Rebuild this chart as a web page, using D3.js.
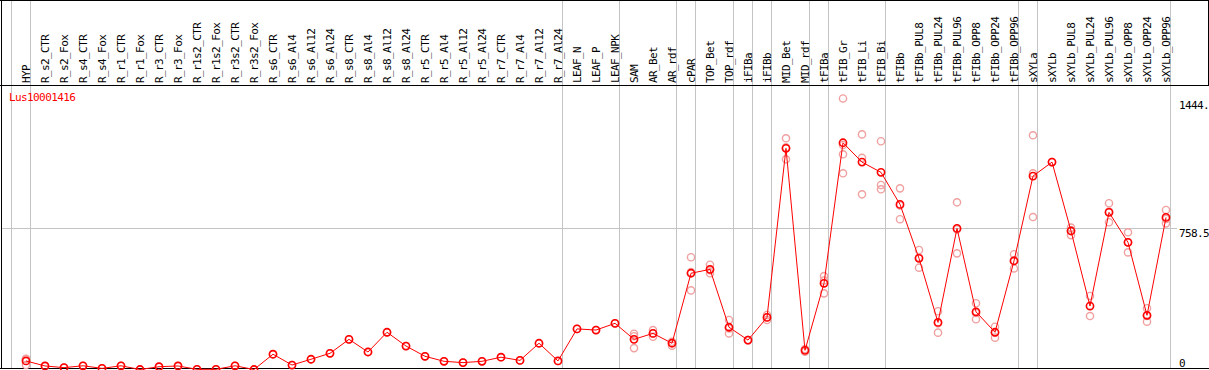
<!DOCTYPE html>
<html>
<head>
<meta charset="utf-8">
<script src="https://cdn.jsdelivr.net/npm/d3@7"></script>
<style>
  body { margin: 0; background: #fff; }
  text { font-family: "DejaVu Sans Mono", monospace; font-size: 11px; letter-spacing: -0.6px; }
</style>
</head>
<body>
<svg width="1209" height="370"></svg>
<script>
const title = "Lus10001416"

const categories = ["HYP","R_s2_CTR","R_s2_Fox","R_s4_CTR","R_s4_Fox","R_r1_CTR","R_r1_Fox","R_r3_CTR","R_r3_Fox",
  "R_r1s2_CTR","R_r1s2_Fox","R_r3s2_CTR","R_r3s2_Fox","R_s6_CTR","R_s6_Al4","R_s6_Al12","R_s6_Al24",
  "R_s8_CTR","R_s8_Al4","R_s8_Al12","R_s8_Al24","R_r5_CTR","R_r5_Al4","R_r5_Al12","R_r5_Al24",
  "R_r7_CTR","R_r7_Al4","R_r7_Al12","R_r7_Al24","LEAF_N","LEAF_P","LEAF_NPK","SAM","AR_Bet","AR_rdf",
  "cPAR","TOP_Bet","TOP_rdf","iFIBa","iFIBb","MID_Bet","MID_rdf","tFIBa","tFIB_Gr","tFIB_Li","tFIB_Bi",
  "tFIBb","tFIBb_PUL8","tFIBb_PUL24","tFIBb_PUL96","tFIBb_OPP8","tFIBb_OPP24","tFIBb_OPP96",
  "sXYLa","sXYLb","sXYLb_PUL8","sXYLb_PUL24","sXYLb_PUL96","sXYLb_OPP8","sXYLb_OPP24","sXYLb_OPP96"]

// how many categories sit in each group (grey separators between groups)
const groupSizes = [1, 28, 3, 3, 1, 2, 1, 1, 2, 1, 3, 7, 1, 7]

const means = [46,19,10,20,6,20,0,15,19,1,1,20,0,82,24,55,87,162,94,200,126,71,44,37,44,66,49,141,46,
  218,212,248,162,194,141,517,538,227,158,280,1188,103,463,1218,1114,1059,
  887,597,253,758,310,200,583,1039,1114,744,341,844,683,291,817]

const reps = [[24,56,58],[19],[10],[20],[6],[20],[0],[15],[19],[1],[1],[20],[0],[82],[24],[55],[87],
  [162],[94],[200],[126],[71],[44],[37],[44],[66],[49],[141],[46],
  [218],[212],[248],[192,115,179],[212,176,194],[149,128,146],[603,425,523],[563,517,534],[266,194,221],
  [158,158],[293,266,281],[1242,1129,1193],[96,110],[502,409,478],[1456,1156,1054,1206],[1263,1137,941],
  [1226,991,968],[973,807,881],[642,547,602],[313,198,248],[898,624,752],[356,270,304],[230,171,199],
  [619,543,587],[1258,1054,819],[1114],[762,722,748],[287,395],[893,791,848],[737,629,683],[329,257,287],[857,785,809]]

const yTicks = [0, 758.5, 1444]
const yTickLabels = ["0", "758.5", "1444."]

const svg = d3.select("svg")
const W = 1209, H = 370
const headerBottom = 85

const x = d3.scalePoint().domain(categories).range([26, 1166])
const step = x.step()
const y = d3.scaleLinear().domain([0, 758.5]).range([369.5, 228.3])

// grey separators: one before the first category, then after every group
let bounds = [x(categories[0]) - step + 4.5]
let idx = -1
groupSizes.forEach(n => { idx += n; bounds.push(x(categories[idx]) + 4.5) })

svg.selectAll("line.vgrid").data(bounds).enter().append("line")
  .attr("class", "vgrid")
  .attr("x1", d => d).attr("x2", d => d)
  .attr("y1", 0).attr("y2", 368)
  .attr("stroke", "#c4c4c4").attr("stroke-width", 1)

// horizontal grid at the middle tick
svg.append("line")
  .attr("x1", 1).attr("x2", 1177)
  .attr("y1", Math.round(y(yTicks[1])) + 0.5).attr("y2", Math.round(y(yTicks[1])) + 0.5)
  .attr("stroke", "#c4c4c4")

// frame
svg.append("line").attr("x1", 0).attr("x2", W).attr("y1", 0.5).attr("y2", 0.5).attr("stroke", "#000")
svg.append("line").attr("x1", 0).attr("x2", W).attr("y1", headerBottom + 0.5).attr("y2", headerBottom + 0.5).attr("stroke", "#000")
svg.append("line").attr("x1", 0).attr("x2", W).attr("y1", 368.5).attr("y2", 368.5).attr("stroke", "#000")
svg.append("line").attr("x1", 1.5).attr("x2", 1.5).attr("y1", 0).attr("y2", 369).attr("stroke", "#000")
svg.append("line").attr("x1", 1208.5).attr("x2", 1208.5).attr("y1", 0).attr("y2", headerBottom).attr("stroke", "#000")

// rotated category labels
svg.selectAll("text.cat").data(categories).enter().append("text")
  .attr("class", "cat")
  .attr("transform", d => "translate(" + (x(d) + 3.5) + "," + (headerBottom - 2) + ") rotate(-90)")
  .text(d => d)

// y labels on the right
svg.selectAll("text.ytick").data(yTicks).enter().append("text")
  .attr("class", "ytick")
  .attr("x", 1179)
  .attr("y", (d, i) => i == 0 ? 367 : y(d) + 8.5)
  .text((d, i) => yTickLabels[i])

svg.append("text")
  .text(title)
  .attr("x", 9).attr("y", 101)
  .attr("fill", "#ff0000")

const g = svg.append("g")

// replicate circles
const repPts = []
reps.forEach((r, i) => r.forEach(v => repPts.push([categories[i], v])))
g.selectAll("circle.rep").data(repPts).enter().append("circle")
  .attr("class", "rep")
  .attr("cx", d => x(d[0])).attr("cy", d => y(d[1]))
  .attr("r", 3.6)
  .attr("fill", "none")
  .attr("stroke", "#f0a0a0")
  .attr("stroke-width", 1.4)

const line = d3.line().x((d, i) => x(categories[i])).y(d => y(d))
g.append("path")
  .attr("d", line(means))
  .attr("fill", "none")
  .attr("stroke", "#ff0000")
  .attr("stroke-width", 1)

g.selectAll("circle.mean").data(means).enter().append("circle")
  .attr("class", "mean")
  .attr("cx", (d, i) => x(categories[i])).attr("cy", d => y(d))
  .attr("r", 3.6)
  .attr("fill", "none")
  .attr("stroke", "#ff0000")
  .attr("stroke-width", 1.6)
</script>
</body>
</html>
